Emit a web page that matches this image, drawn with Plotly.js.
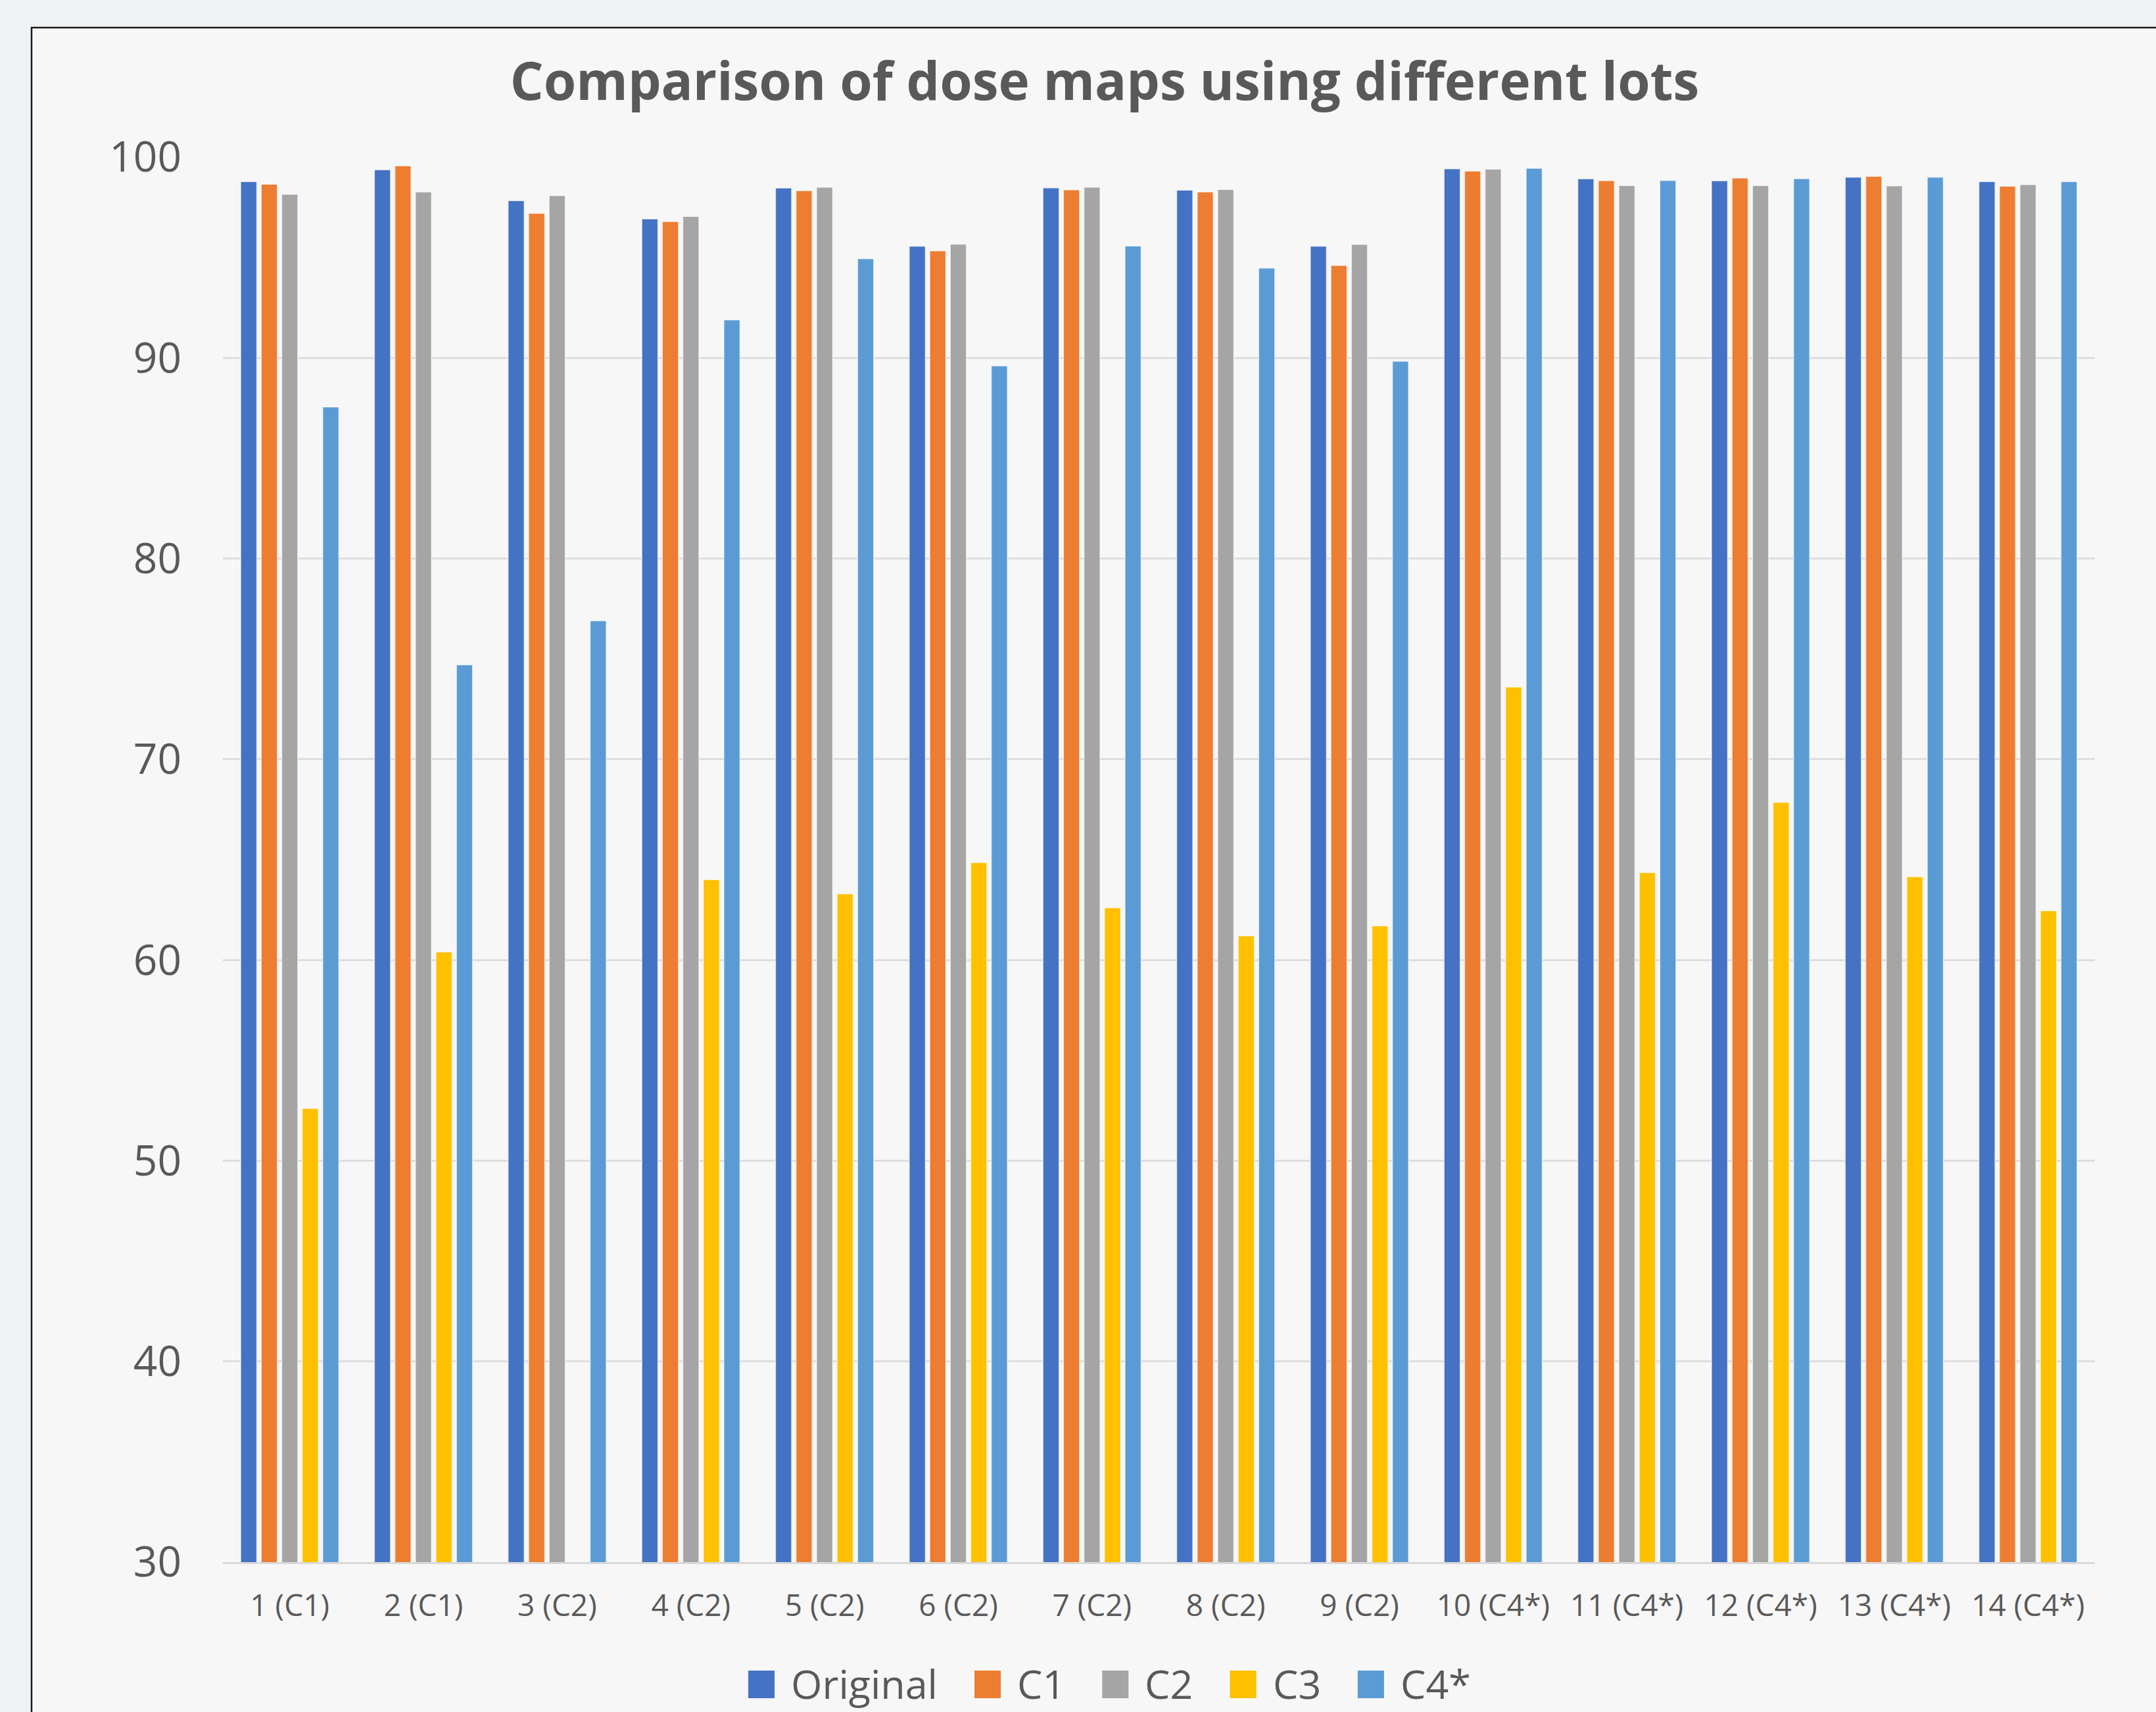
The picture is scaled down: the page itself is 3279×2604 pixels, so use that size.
<!DOCTYPE html>
<html>
<head>
<meta charset="utf-8">
<script src="https://cdn.plot.ly/plotly-3.0.1.min.js"></script>
<style>
  html, body { margin: 0; padding: 0; background: #eef2f3; }
  #chart { width: 3279px; height: 2604px; }
</style>
</head>
<body>
<div id="chart"></div>
<script>
// ---------------- data ----------------
const categories = ['1 (C1)', '2 (C1)', '3 (C2)', '4 (C2)', '5 (C2)', '6 (C2)', '7 (C2)',
  '8 (C2)', '9 (C2)', '10 (C4*)', '11 (C4*)', '12 (C4*)', '13 (C4*)', '14 (C4*)'];
const seriesNames = ['Original', 'C1', 'C2', 'C3', 'C4*'];
const original = [98.78, 99.37, 97.83, 96.92, 98.46, 95.56, 98.47, 98.35, 95.56, 99.42, 98.92, 98.82, 99.00, 98.78];
const c1       = [98.65, 99.57, 97.20, 96.79, 98.33, 95.33, 98.37, 98.26, 94.60, 99.30, 98.83, 98.96, 99.04, 98.55];
const c2       = [98.15, 98.26, 98.08, 97.04, 98.50, 95.66, 98.50, 98.39, 95.65, 99.40, 98.58, 98.58, 98.57, 98.63];
const c3       = [52.60, 60.40, 29.90, 64.00, 63.30, 64.85, 62.60, 61.20, 61.70, 73.60, 64.35, 67.86, 64.15, 62.45];
const c4       = [87.55, 74.70, 76.90, 91.89, 94.94, 89.60, 95.57, 94.47, 89.83, 99.44, 98.84, 98.93, 99.00, 98.78];
const yTicks = [30, 40, 50, 60, 70, 80, 90, 100];
const titleText = 'Comparison of dose maps using different lots';

// ---------------- styles ----------------
const colors = ['#4472C4', '#ED7D31', '#A5A5A5', '#FFC000', '#5B9BD5'];
const values = [original, c1, c2, c3, c4];
const FONT = 'Open Sans, Lato, sans-serif';
const W = 3279, H = 2604;
const M = { l: 339, r: 93, t: 239, b: 228 };
const PW = W - M.l - M.r, PH = H - M.t - M.b;
const px2x = p => (p - M.l) / PW;
const py2y = p => (H - M.b - p) / PH;

const traces = seriesNames.map((name, i) => ({
  type: 'bar',
  name: name,
  x: categories,
  y: values[i],
  marker: { color: colors[i], line: { color: 'rgba(255,255,255,0.65)', width: 1.5 } },
  showlegend: false,
  hoverinfo: 'x+y+name'
}));

// custom legend (large swatches like the original)
const legFontSize = 61;
const ctx = document.createElement('canvas').getContext('2d');
ctx.font = legFontSize + 'px "Open Sans"';
let lx = 1138;
const legY = 2562;
const shapes = [
  // chart frame
  { type: 'rect', xref: 'paper', yref: 'paper', layer: 'below',
    x0: px2x(48), x1: px2x(W + 40), y0: py2y(H + 40), y1: py2y(42),
    fillcolor: '#f7f7f7', line: { color: '#1a1a1a', width: 2.5 } }
];
const annotations = [];
seriesNames.forEach((name, i) => {
  shapes.push({ type: 'rect', xref: 'paper', yref: 'paper',
    x0: px2x(lx), x1: px2x(lx + 40), y0: py2y(legY + 21), y1: py2y(legY - 21),
    fillcolor: colors[i], line: { width: 0 } });
  const tx = lx + 63;
  annotations.push({ xref: 'paper', yref: 'paper', x: px2x(tx), y: py2y(legY - 2),
    xanchor: 'left', yanchor: 'middle', showarrow: false, text: name,
    font: { family: FONT, size: legFontSize, color: '#595959' } });
  lx = tx + ctx.measureText(name).width + 58;
});

const layout = {
  width: W, height: H,
  margin: M,
  paper_bgcolor: '#eef2f3',
  plot_bgcolor: 'rgba(0,0,0,0)',
  font: { family: FONT, color: '#595959' },
  title: {
    text: '<b>' + titleText + '</b>',
    font: { family: FONT, size: 80, color: '#595959' },
    xref: 'container', yref: 'container',
    x: 1680 / W, xanchor: 'center',
    y: 1 - 124 / H, yanchor: 'middle'
  },
  barmode: 'group',
  bargap: 0.233,
  bargroupgap: 0.215,
  xaxis: {
    type: 'category',
    tickfont: { family: FONT, size: 46, color: '#595959' },
    showgrid: false,
    showline: true, linecolor: '#d9d9d9', linewidth: 3,
    ticks: '',
    ticklabelstandoff: 24,
    zeroline: false
  },
  yaxis: {
    range: [30, 100],
    tickvals: yTicks,
    tickfont: { family: FONT, size: 64, color: '#595959' },
    showgrid: true, gridcolor: '#dedede', gridwidth: 3,
    showline: false, zeroline: false,
    ticks: '',
    ticklabelstandoff: 62
  },
  shapes: shapes,
  annotations: annotations
};

Plotly.newPlot('chart', traces, layout, { displayModeBar: false, staticPlot: true });
</script>
</body>
</html>
